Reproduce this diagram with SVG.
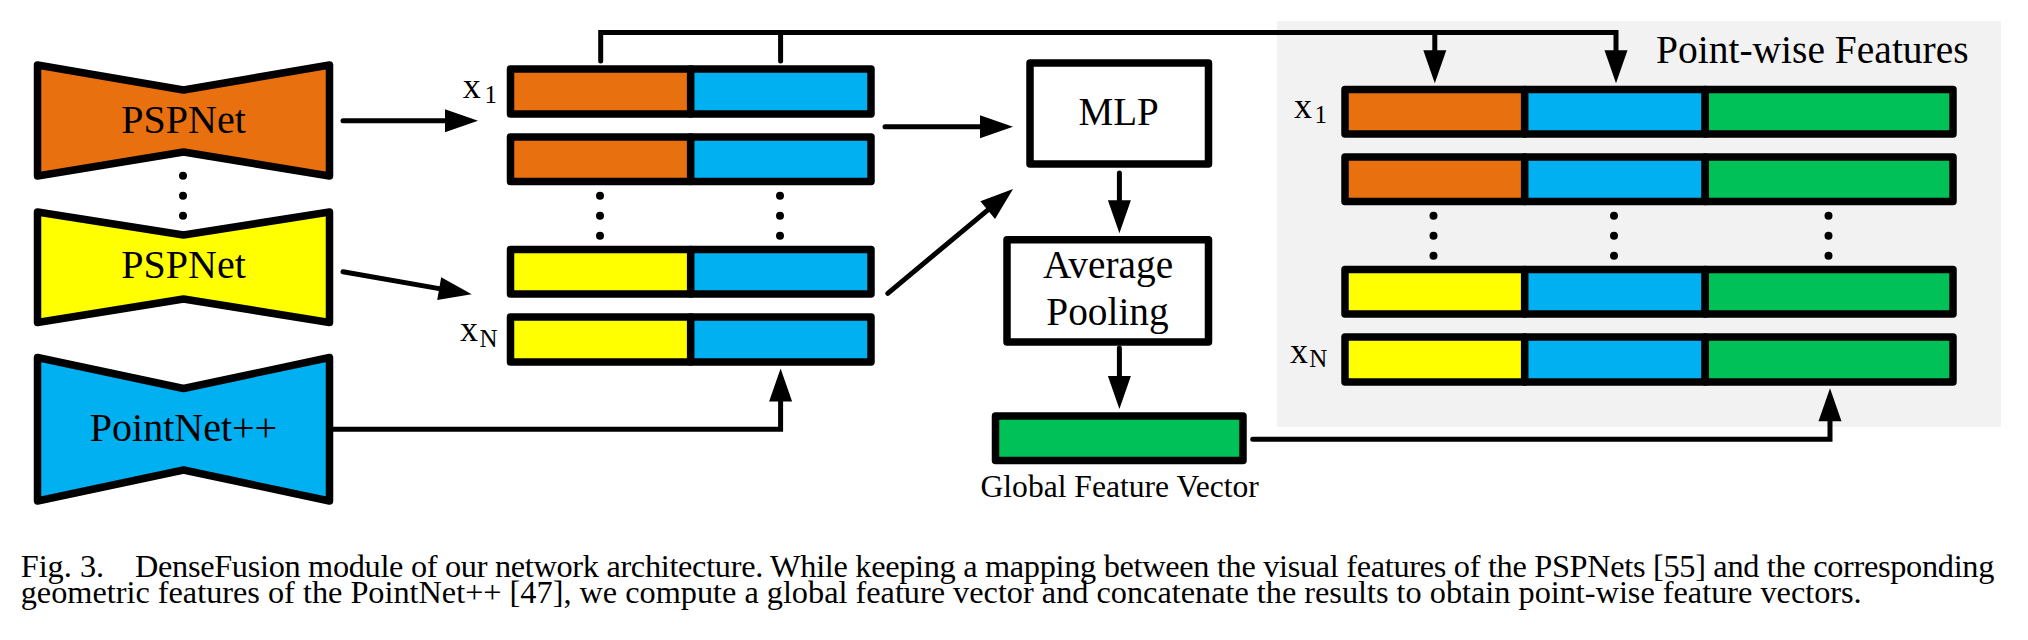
<svg xmlns="http://www.w3.org/2000/svg" width="2028" height="640" viewBox="0 0 2028 640">
<style>
  .t { font-family: "Liberation Serif", "Times New Roman", serif; fill: #000; }
  .net { stroke: #000; stroke-width: 7.5; stroke-linejoin: round; }
  .bar { stroke: #000; stroke-width: 7.5; stroke-linejoin: round; }
  .div { stroke: #000; stroke-width: 7.5; }
  .box { fill: #fff; stroke: #000; stroke-width: 7.5; stroke-linejoin: round; }
  .c { fill: none; stroke: #000; stroke-width: 5; stroke-linecap: round; stroke-linejoin: miter; }
  .dot { fill: #000; }
  .or { fill: #E8700E; }
  .bl { fill: #00B0F0; }
  .ye { fill: #FFFF00; }
  .gr { fill: #00C158; }
</style>
<defs>
  <marker id="ah" markerUnits="userSpaceOnUse" markerWidth="33" markerHeight="23" viewBox="0 0 33 23" refX="0" refY="11.5" orient="auto" overflow="visible">
    <path d="M0,0 L33,11.5 L0,23 z" fill="#000"/>
  </marker>
</defs>
<rect width="2028" height="640" fill="#fff"/>

<g id="pointwise-panel">
  <rect x="1277" y="21" width="724" height="406" fill="#F2F2F2"/>
  <text class="t" x="1656" y="62.7" font-size="39.5">Point-wise Features</text>
</g>

<g id="pspnet-1">
  <polygon class="net or" points="37.5,65 183.5,90 329.5,65 329.5,176 183.5,152 37.5,176"/>
  <text class="t" x="183.5" y="132.7" font-size="40" text-anchor="middle">PSPNet</text>
</g>
<g id="pspnet-dots">
  <circle class="dot" cx="183" cy="175.7" r="4"/>
  <circle class="dot" cx="183" cy="195.7" r="4"/>
  <circle class="dot" cx="183" cy="215.7" r="4"/>
</g>
<g id="pspnet-n">
  <polygon class="net ye" points="37.5,212 183.5,235 329.5,212 329.5,322.5 183.5,299 37.5,322.5"/>
  <text class="t" x="183.5" y="278.3" font-size="40" text-anchor="middle">PSPNet</text>
</g>
<g id="pointnet">
  <polygon class="net bl" points="37.5,357.5 183.5,388.5 329.5,357.5 329.5,501 183.5,470 37.5,501"/>
  <text class="t" x="183.5" y="440.7" font-size="40" text-anchor="middle">PointNet++</text>
</g>

<g id="fused-features">
  <text class="t" x="462.7" y="97.7" font-size="36">x</text>
  <text class="t" x="484.5" y="103.3" font-size="25">1</text>
  <text class="t" x="460" y="340.7" font-size="36">x</text>
  <text class="t" x="479.5" y="346.7" font-size="25">N</text>
  <rect class="bar or" x="510.5" y="69" width="180.2" height="45"/>
  <rect class="bar bl" x="690.7" y="69" width="180.3" height="45"/>
  <rect class="bar or" x="510.5" y="137" width="180.2" height="44.5"/>
  <rect class="bar bl" x="690.7" y="137" width="180.3" height="44.5"/>
  <rect class="bar ye" x="510.5" y="249.5" width="180.2" height="44.5"/>
  <rect class="bar bl" x="690.7" y="249.5" width="180.3" height="44.5"/>
  <rect class="bar ye" x="510.5" y="317" width="180.2" height="45"/>
  <rect class="bar bl" x="690.7" y="317" width="180.3" height="45"/>
  <circle class="dot" cx="600" cy="195.7" r="4"/>
  <circle class="dot" cx="600" cy="215.7" r="4"/>
  <circle class="dot" cx="600" cy="235.7" r="4"/>
  <circle class="dot" cx="780" cy="195.7" r="4"/>
  <circle class="dot" cx="780" cy="215.7" r="4"/>
  <circle class="dot" cx="780" cy="235.7" r="4"/>
</g>

<g id="mlp">
  <rect class="box" x="1030" y="63" width="178.5" height="101"/>
  <text class="t" x="1118.7" y="125" font-size="39" text-anchor="middle">MLP</text>
</g>

<g id="avg-pooling">
  <rect class="box" x="1007" y="239.7" width="201.5" height="102.3"/>
  <text class="t" x="1108" y="278.3" font-size="39.3" text-anchor="middle">Average</text>
  <text class="t" x="1107.5" y="325" font-size="39.3" text-anchor="middle">Pooling</text>
</g>

<g id="global-feature">
  <rect class="bar gr" x="995.5" y="416" width="247.5" height="44.5"/>
  <text class="t" x="1119.7" y="497.3" font-size="31.6" text-anchor="middle">Global Feature Vector</text>
</g>

<g id="pointwise-features">
  <text class="t" x="1294" y="118.3" font-size="36">x</text>
  <text class="t" x="1314.5" y="123" font-size="25">1</text>
  <text class="t" x="1290" y="363.3" font-size="36">x</text>
  <text class="t" x="1309.3" y="366.7" font-size="25">N</text>
  <rect class="bar or" x="1345" y="89.5" width="179.7" height="44.5"/>
  <rect class="bar bl" x="1524.7" y="89.5" width="180.5" height="44.5"/>
  <rect class="bar gr" x="1705.2" y="89.5" width="247.8" height="44.5"/>
  <rect class="bar or" x="1345" y="157" width="179.7" height="44.5"/>
  <rect class="bar bl" x="1524.7" y="157" width="180.5" height="44.5"/>
  <rect class="bar gr" x="1705.2" y="157" width="247.8" height="44.5"/>
  <rect class="bar ye" x="1345" y="269.5" width="179.7" height="44.5"/>
  <rect class="bar bl" x="1524.7" y="269.5" width="180.5" height="44.5"/>
  <rect class="bar gr" x="1705.2" y="269.5" width="247.8" height="44.5"/>
  <rect class="bar ye" x="1345" y="337" width="179.7" height="45"/>
  <rect class="bar bl" x="1524.7" y="337" width="180.5" height="45"/>
  <rect class="bar gr" x="1705.2" y="337" width="247.8" height="45"/>
  <circle class="dot" cx="1433.5" cy="215.7" r="4"/>
  <circle class="dot" cx="1433.5" cy="235.7" r="4"/>
  <circle class="dot" cx="1433.5" cy="255.7" r="4"/>
  <circle class="dot" cx="1614" cy="215.7" r="4"/>
  <circle class="dot" cx="1614" cy="235.7" r="4"/>
  <circle class="dot" cx="1614" cy="255.7" r="4"/>
  <circle class="dot" cx="1828.5" cy="215.7" r="4"/>
  <circle class="dot" cx="1828.5" cy="235.7" r="4"/>
  <circle class="dot" cx="1828.5" cy="255.7" r="4"/>
</g>

<g id="connectors">
  <path class="c" d="M343,120.7 H445" marker-end="url(#ah)"/>
  <path class="c" d="M343,271.7 L439.2,288.6" marker-end="url(#ah)"/>
  <path class="c" d="M333,429.3 H780.6 V401.5" marker-end="url(#ah)"/>
  <path class="c" d="M885,126.7 H980" marker-end="url(#ah)"/>
  <path class="c" d="M887.8,293.3 L987.7,210.1" marker-end="url(#ah)"/>
  <path class="c" d="M1119.4,173 V200.3" marker-end="url(#ah)"/>
  <path class="c" d="M1119.4,348 V376" marker-end="url(#ah)"/>
  <path class="c" d="M1252.7,439.3 H1830 V421.3" marker-end="url(#ah)"/>
  <path class="c" d="M600.7,61 V32.5 H1616 V50.3" marker-end="url(#ah)"/>
  <path class="c" d="M780.6,61 V32.5"/>
  <path class="c" d="M1434.8,32.5 V50.3" marker-end="url(#ah)"/>
</g>

<g id="caption">
  <text class="t" x="20.7" y="576.5" font-size="32.3">Fig. 3.</text>
  <text class="t" x="135" y="576.5" font-size="32.3" textLength="1859.3" lengthAdjust="spacing">DenseFusion module of our network architecture. While keeping a mapping between the visual features of the PSPNets [55] and the corresponding</text>
  <text class="t" x="20.7" y="602.8" font-size="32.3" textLength="1841" lengthAdjust="spacing">geometric features of the PointNet++ [47], we compute a global feature vector and concatenate the results to obtain point-wise feature vectors.</text>
</g>
</svg>
